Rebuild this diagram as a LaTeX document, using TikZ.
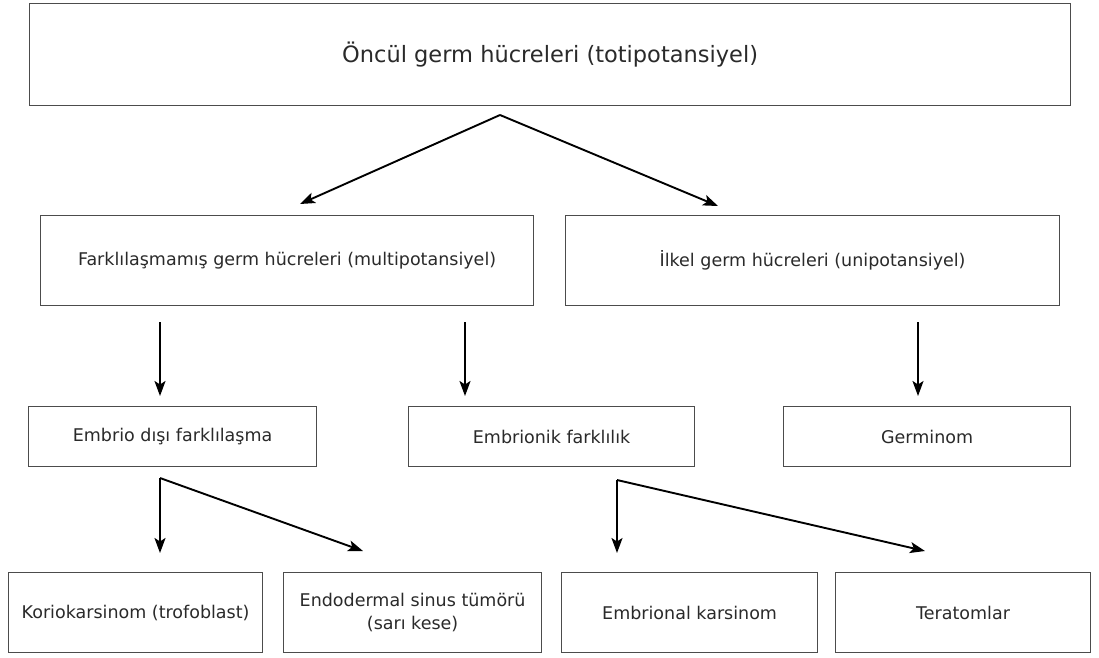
\documentclass[tikz,border=0pt]{standalone}
\usepackage{fontspec}
\setmainfont{DejaVu Sans}
\usetikzlibrary{arrows.meta}
\definecolor{txt}{HTML}{2A2A2A}
\begin{document}
\begin{tikzpicture}[x=1pt,y=-1pt,
  box/.style={draw=black!70, line width=1.2pt, inner sep=0pt, align=center, anchor=north west, text=txt},
  big/.style={font=\fontsize{22.5}{27}\selectfont},
  lbl/.style={font=\fontsize{17.5}{23}\selectfont},
  arr/.style={line width=1.9pt, -{Stealth[length=15pt,width=11pt,inset=3.5pt]}}]
\useasboundingbox (0,0) rectangle (1099,657);
\fill[white] (0,0) rectangle (1099,657);
\node[box,big,minimum width=1041pt,minimum height=102pt] (top) at (29,3) {Öncül germ hücreleri (totipotansiyel)};
\node[box,lbl,minimum width=493pt,minimum height=90pt] (fark) at (40,215) {Farklılaşmamış germ hücreleri (multipotansiyel)};
\node[box,lbl,minimum width=494pt,minimum height=90pt] (ilkel) at (565,215) {İlkel germ hücreleri (unipotansiyel)};
\node[box,lbl,minimum width=288pt,minimum height=60pt] (edis) at (28,406) {Embrio dışı farklılaşma};
\node[box,lbl,minimum width=286pt,minimum height=60pt] (enik) at (408,406) {Embrionik farklılık};
\node[box,lbl,minimum width=287pt,minimum height=60pt] (germ) at (783,406) {Germinom};
\node[box,lbl,minimum width=254pt,minimum height=80pt] (kor) at (8,572) {Koriokarsinom (trofoblast)};
\node[box,lbl,minimum width=258pt,minimum height=80pt] (endo) at (283,572) {Endodermal sinus tümörü\\(sarı kese)};
\node[box,lbl,minimum width=256pt,minimum height=80pt] (emb) at (561,572) {Embrional karsinom};
\node[box,lbl,minimum width=255pt,minimum height=80pt] (ter) at (835,572) {Teratomlar};
% connector points
\coordinate (a0) at (500,115);
\coordinate (a1) at (300,204);
\coordinate (a2) at (718,206);
\coordinate (b1s) at (160,322); \coordinate (b1e) at (160,396);
\coordinate (b2s) at (465,322); \coordinate (b2e) at (465,396);
\coordinate (b3s) at (918,322); \coordinate (b3e) at (918,396);
\coordinate (c0) at (160,478); \coordinate (c1) at (160,553); \coordinate (c2) at (363,551);
\coordinate (d0) at (617,480); \coordinate (d1) at (617,553); \coordinate (d2) at (925,551);
\draw[arr] (a0) -- (a1);
\draw[arr] (a0) -- (a2);
\draw[arr] (b1s) -- (b1e);
\draw[arr] (b2s) -- (b2e);
\draw[arr] (b3s) -- (b3e);
\draw[arr] (c0) -- (c1);
\draw[arr] (c0) -- (c2);
\draw[arr] (d0) -- (d1);
\draw[arr] (d0) -- (d2);
\end{tikzpicture}
\end{document}
